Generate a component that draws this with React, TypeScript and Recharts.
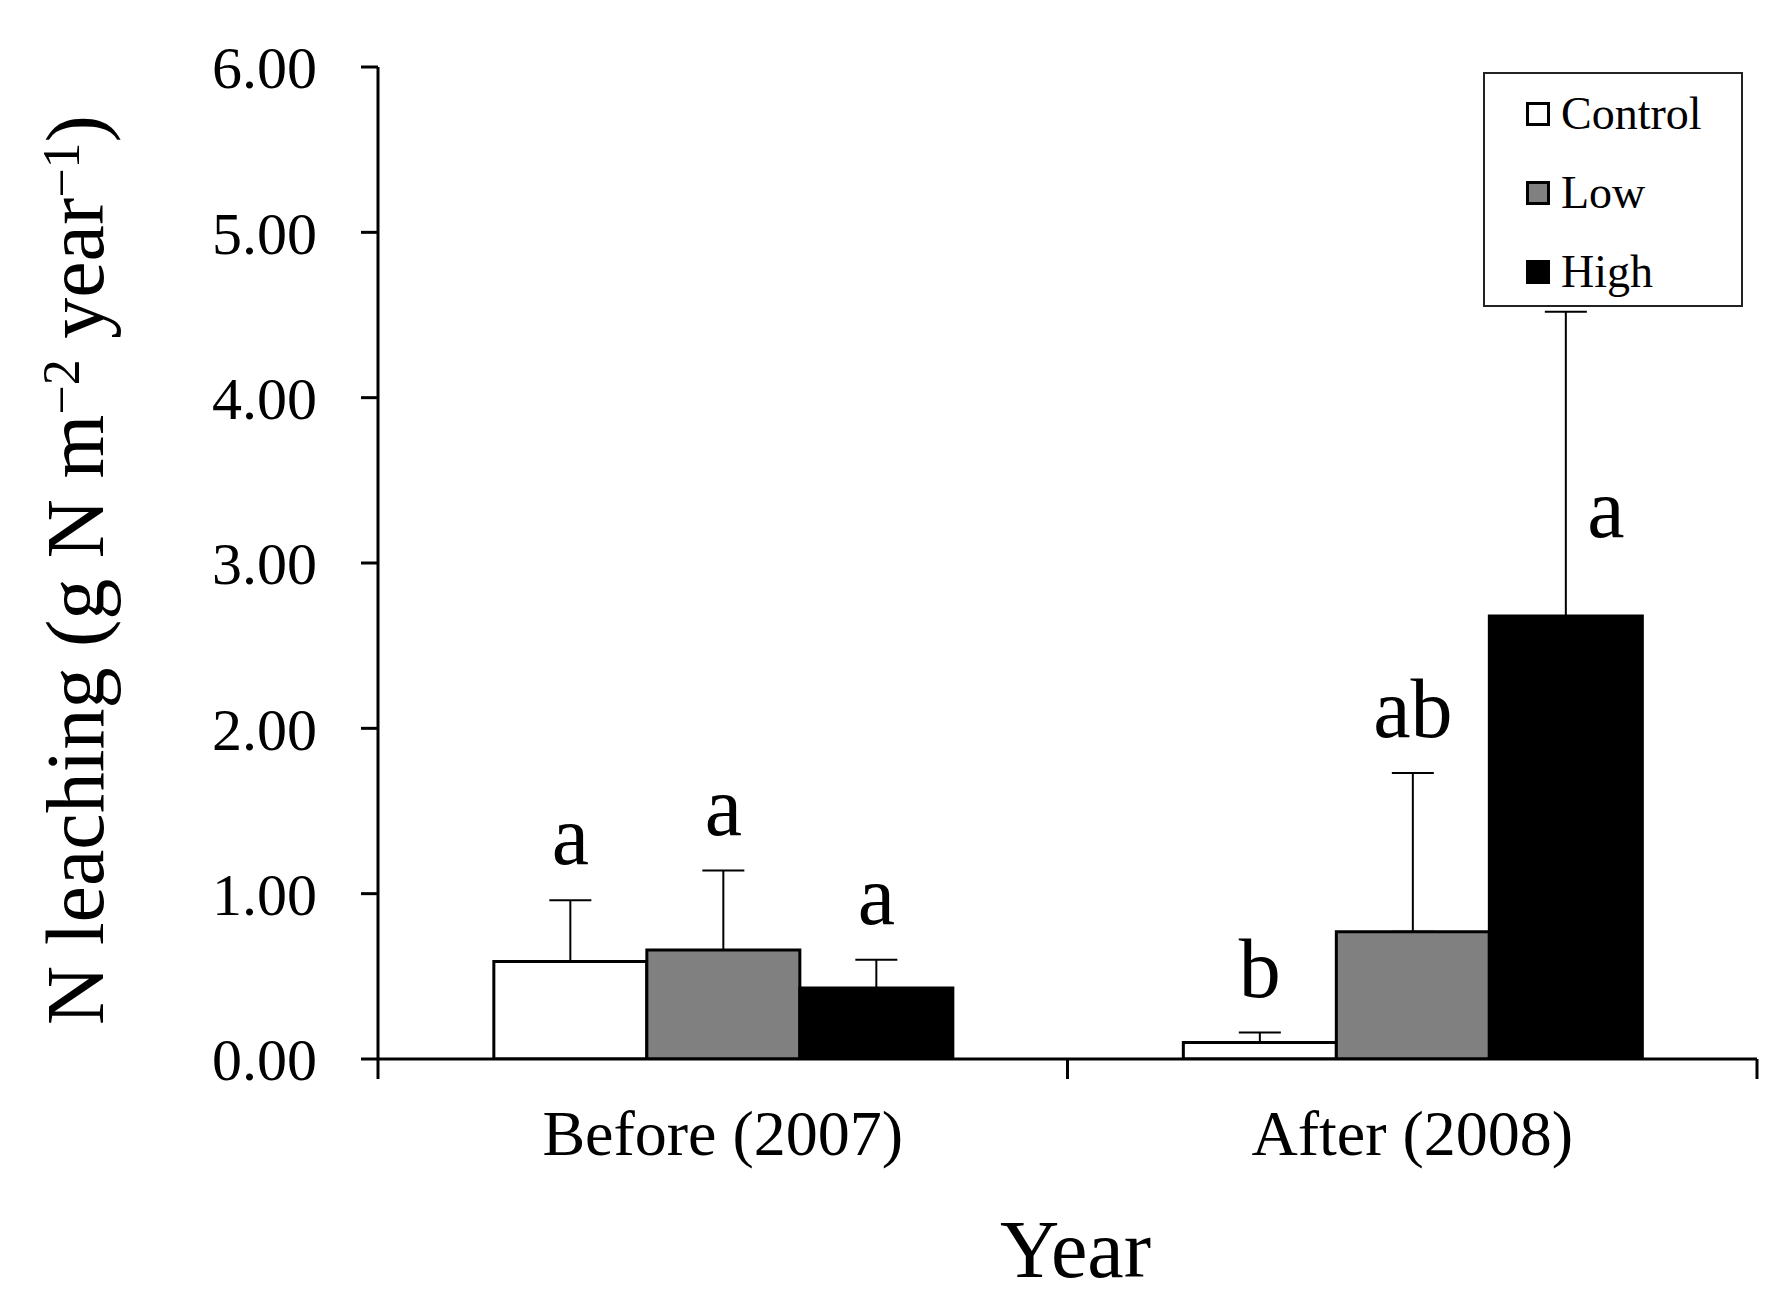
import React from 'react';
import { BarChart, Bar, XAxis, YAxis, ErrorBar, LabelList, Legend } from 'recharts';

const categories = ['Before (2007)', 'After (2008)'];
const seriesNames = ['Control', 'Low', 'High'];
const controlValues = [0.59, 0.1];
const controlErrors = [0.37, 0.06];
const lowValues = [0.66, 0.77];
const lowErrors = [0.48, 0.96];
const highValues = [0.43, 2.68];
const highErrors = [0.17, 1.84];
const controlLetters = ['a', 'b'];
const lowLetters = ['a', 'ab'];
const highLetters = ['a', 'a'];
const yTicks = [0, 1, 2, 3, 4, 5, 6];

const data = categories.map((c, i) => ({
  category: c,
  control: controlValues[i],
  controlErr: [0, controlErrors[i]],
  controlLetter: controlLetters[i],
  low: lowValues[i],
  lowErr: [0, lowErrors[i]],
  lowLetter: lowLetters[i],
  high: highValues[i],
  highErr: [0, highErrors[i]],
  highLetter: highLetters[i],
}));

const FONT = '"Liberation Serif", "Times New Roman", Times, serif';
const W = 1787;
const H = 1315;
const MARGIN = { top: 67, right: 30, bottom: 0, left: 0 };
const Y_AXIS_W = 378;
const X_AXIS_H = 256;
const PLOT_W = W - MARGIN.left - MARGIN.right - Y_AXIS_W;

const CategoryTick = (props: any) => {
  const { x, y, payload, index, visibleTicksCount } = props;
  const half =
    payload && typeof payload.offset === 'number' && payload.offset > 0
      ? payload.offset
      : PLOT_W / categories.length / 2;
  const count = typeof visibleTicksCount === 'number' ? visibleTicksCount : categories.length;
  const isLast = index === count - 1;
  return (
    <g>
      <line x1={x - half} x2={x - half} y1={y} y2={y + 20} stroke="#000" strokeWidth={3} />
      {isLast && <line x1={x + half} x2={x + half} y1={y} y2={y + 20} stroke="#000" strokeWidth={3} />}
      <text x={x} y={y + 96} textAnchor="middle" fontFamily={FONT} fontSize={64} fill="#000">
        {payload.value}
      </text>
    </g>
  );
};

const YLabel = (props: any) => {
  const vb = props.viewBox || {};
  const cy = (vb.y ?? 67) + (vb.height ?? 992) / 2 + 7;
  const bx = 103;
  return (
    <text
      x={bx}
      y={cy}
      transform={`rotate(-90, ${bx}, ${cy})`}
      textAnchor="middle"
      fontFamily={FONT}
      fontSize={82}
      fill="#000"
    >
      N leaching (g N m
      <tspan dy={-24} fontSize={52}>{'\u22122'}</tspan>
      <tspan dy={24} fontSize={82}> year</tspan>
      <tspan dy={-24} fontSize={52}>{'\u22121'}</tspan>
      <tspan dy={24} fontSize={82}>)</tspan>
    </text>
  );
};

const XLabel = (props: any) => {
  const vb = props.viewBox || {};
  const cx = (vb.x ?? 378) + (vb.width ?? 1379) / 2 + 8;
  const by = (vb.y ?? 1059) + 218;
  return (
    <text x={cx} y={by} textAnchor="middle" fontFamily={FONT} fontSize={82} fill="#000">
      Year
    </text>
  );
};

const makeLetterRenderer = (values: number[], errors: number[], letters: string[]) => (props: any) => {
  const vb = props.viewBox || props;
  const x = vb.x ?? props.x;
  const y = vb.y ?? props.y;
  const width = vb.width ?? props.width;
  const height = Math.abs(vb.height ?? props.height);
  let i = props.index;
  if (typeof i !== 'number') i = x < MARGIN.left + Y_AXIS_W + PLOT_W / 2 ? 0 : 1;
  const v = values[i];
  const e = errors[i];
  const pxPerUnit = v > 0 ? height / v : 0;
  const errPx = e * pxPerUnit;
  const cx = x + width / 2;
  const side = errPx > 200;
  const tx = side ? cx + 40 : cx;
  const ty = side ? y - 79 : y - errPx - 36;
  return (
    <text x={tx} y={ty} textAnchor="middle" fontFamily={FONT} fontSize={84} fill="#000">
      {letters[i]}
    </text>
  );
};

const legendColors = ['#ffffff', '#808080', '#000000'];

const LegendBox = () => {
  const items = seriesNames.map((n, k) => ({ name: n, color: legendColors[k] }));
  return (
    <div
      style={{
        width: 260,
        height: 235,
        boxSizing: 'border-box',
        border: '2px solid #222',
        background: '#fff',
        fontFamily: FONT,
      }}
    >
      {items.map((it) => (
        <div
          key={it.name}
          style={{ height: 79, display: 'flex', alignItems: 'center', paddingLeft: 41 }}
        >
          <div
            style={{
              width: 24,
              height: 24,
              boxSizing: 'border-box',
              border: '3px solid #000',
              background: it.color,
              marginRight: 11,
            }}
          />
          <span style={{ fontSize: 46, lineHeight: 1, color: '#000' }}>{it.name}</span>
        </div>
      ))}
    </div>
  );
};

export default function App() {
  return (
    <div style={{ position: 'absolute', left: 0, top: 0, background: '#fff' }}>
      <BarChart
        width={W}
        height={H}
        data={data}
        margin={MARGIN}
        barCategoryGap="16.8%"
        barGap={0}
      >
        <XAxis
          dataKey="category"
          height={X_AXIS_H}
          interval={0}
          axisLine={{ stroke: '#000', strokeWidth: 3 }}
          tickLine={false}
          tickSize={0}
          tickMargin={0}
          tick={<CategoryTick />}
          label={XLabel}
        />
        <XAxis
          xAxisId="top"
          orientation="top"
          dataKey="category"
          height={0}
          tick={false}
          tickLine={false}
          axisLine={{ stroke: '#000', strokeWidth: 3 }}
        />
        <YAxis
          width={Y_AXIS_W}
          domain={[0, 6]}
          ticks={yTicks}
          interval={0}
          allowDataOverflow
          tickFormatter={(v: number) => v.toFixed(2)}
          tickSize={17}
          tickMargin={44}
          tick={{ fill: '#000', fontSize: 60, fontFamily: FONT }}
          axisLine={{ stroke: '#000', strokeWidth: 3 }}
          tickLine={{ stroke: '#000', strokeWidth: 3 }}
          label={YLabel}
        />
        <YAxis
          yAxisId="right"
          orientation="right"
          width={0}
          domain={[0, 6]}
          tick={false}
          tickLine={false}
          axisLine={{ stroke: '#000', strokeWidth: 3 }}
        />
        <Legend
          layout="vertical"
          align="center"
          verticalAlign="middle"
          wrapperStyle={{ left: 1483, top: 72, width: 260, height: 235 }}
          content={LegendBox}
        />
        <Bar dataKey="control" name="Control" fill="#ffffff" stroke="#000" strokeWidth={3} isAnimationActive={false}>
          <ErrorBar dataKey="controlErr" direction="y" width={21} strokeWidth={2} stroke="#000" />
          <LabelList dataKey="controlLetter" content={makeLetterRenderer(controlValues, controlErrors, controlLetters)} />
        </Bar>
        <Bar dataKey="low" name="Low" fill="#808080" stroke="#000" strokeWidth={3} isAnimationActive={false}>
          <ErrorBar dataKey="lowErr" direction="y" width={21} strokeWidth={2} stroke="#000" />
          <LabelList dataKey="lowLetter" content={makeLetterRenderer(lowValues, lowErrors, lowLetters)} />
        </Bar>
        <Bar dataKey="high" name="High" fill="#000000" stroke="#000" strokeWidth={3} isAnimationActive={false}>
          <ErrorBar dataKey="highErr" direction="y" width={21} strokeWidth={2} stroke="#000" />
          <LabelList dataKey="highLetter" content={makeLetterRenderer(highValues, highErrors, highLetters)} />
        </Bar>
      </BarChart>
    </div>
  );
}
